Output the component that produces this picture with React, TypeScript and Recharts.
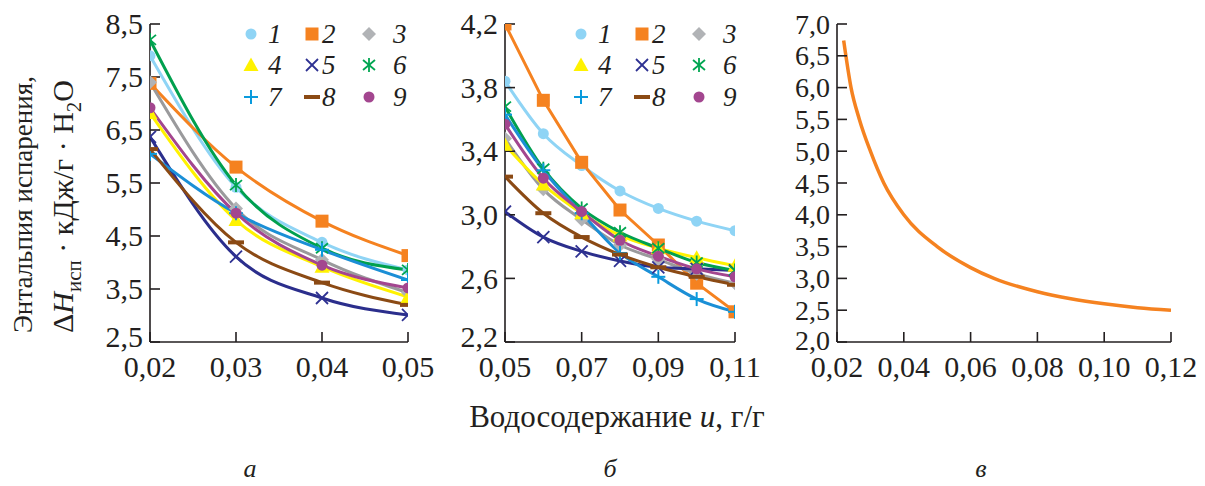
import React from 'react';
import { LineChart, Line, XAxis, YAxis } from 'recharts';

const FONT = "Liberation Serif, 'Liberation Serif', Tinos, 'DejaVu Serif', 'Noto Serif', serif";
const AXIS = '#231F20';

// ---------- data ----------
const seriesNames = ['1', '2', '3', '4', '5', '6', '7', '8', '9'];
const markerKinds = ['circle', 'square', 'diamond', 'triangle', 'x', 'star', 'plus', 'dash', 'circle'];
const markerColors = ['#8FD4F5', '#F58220', '#B1B3B6', '#FFF200', '#2E3192', '#00A651', '#0A9BDD', '#8B4A14', '#A3468F'];
const lineColors = ['#8FD4F5', '#F58220', '#9A9A9C', '#FFF200', '#2B2E8C', '#00A04E', '#1B8FD6', '#8B4A14', '#A3468F'];

// panel a
const uA = [0.02, 0.03, 0.04, 0.05];
const a1 = [7.9, 5.42, 4.38, 3.86];
const a2 = [7.38, 5.8, 4.78, 4.13];
const a3 = [7.4, 5.02, 4.05, 3.43];
const a4 = [6.82, 4.8, 3.92, 3.35];
const a5 = [6.37, 4.11, 3.33, 3.01];
const a6 = [8.2, 5.46, 4.27, 3.86];
const a7 = [6.05, 4.93, 4.24, 3.67];
const a8 = [6.14, 4.38, 3.62, 3.2];
const a9 = [6.92, 4.93, 3.95, 3.52];
const ticksAX = [0.02, 0.03, 0.04, 0.05];
const ticksAY = [2.5, 3.5, 4.5, 5.5, 6.5, 7.5, 8.5];

// panel b
const uB = [0.05, 0.06, 0.07, 0.08, 0.09, 0.1, 0.11];
const b1 = [3.84, 3.51, 3.31, 3.15, 3.04, 2.96, 2.9];
const b2 = [4.2, 3.72, 3.33, 3.03, 2.81, 2.57, 2.39];
const b3 = [3.48, 3.16, 2.97, 2.81, 2.72, 2.63, 2.57];
const b4 = [3.44, 3.19, 3.01, 2.87, 2.79, 2.73, 2.68];
const b5 = [3.02, 2.86, 2.77, 2.71, 2.67, 2.66, 2.65];
const b6 = [3.68, 3.29, 3.04, 2.89, 2.79, 2.7, 2.65];
const b7 = [3.63, 3.28, 3.01, 2.76, 2.61, 2.47, 2.39];
const b8 = [3.24, 3.01, 2.86, 2.75, 2.67, 2.61, 2.56];
const b9 = [3.57, 3.23, 3.02, 2.84, 2.74, 2.66, 2.61];
const ticksBX = [0.05, 0.07, 0.09, 0.11];
const ticksBY = [2.2, 2.6, 3.0, 3.4, 3.8, 4.2];

// panel c
const uC = [0.022, 0.0242, 0.0267, 0.03, 0.034, 0.04, 0.05, 0.06, 0.067, 0.08, 0.09, 0.1, 0.11, 0.12];
const cH = [6.74, 6.0, 5.5, 5.0, 4.5, 4.0, 3.5, 3.17, 3.0, 2.79, 2.68, 2.6, 2.54, 2.5];
const ticksCX = [0.02, 0.04, 0.06, 0.08, 0.1, 0.12];
const ticksCY = [2.0, 2.5, 3.0, 3.5, 4.0, 4.5, 5.0, 5.5, 6.0, 6.5, 7.0];

const panelA = [a1, a2, a3, a4, a5, a6, a7, a8, a9];
const panelB = [b1, b2, b3, b4, b5, b6, b7, b8, b9];

const rowsA = uA.map((u, i) => {
  const r: any = { u };
  panelA.forEach((s, k) => (r['s' + k] = s[i]));
  return r;
});
const rowsB = uB.map((u, i) => {
  const r: any = { u };
  panelB.forEach((s, k) => (r['s' + k] = s[i]));
  return r;
});
const rowsC = uC.map((u, i) => ({ u, h: cH[i] }));

// ---------- markers ----------
function Mark({ kind, x, y, c }: { kind: string; x: number; y: number; c: string }) {
  switch (kind) {
    case 'circle':
      return <circle cx={x} cy={y} r={5.5} fill={c} />;
    case 'square':
      return <rect x={x - 6.5} y={y - 6.5} width={13} height={13} fill={c} />;
    case 'diamond':
      return <path d={`M${x},${y - 7}L${x + 7},${y}L${x},${y + 7}L${x - 7},${y}Z`} fill={c} />;
    case 'triangle':
      return <path d={`M${x},${y - 7.5}L${x + 7.5},${y + 6}L${x - 7.5},${y + 6}Z`} fill={c} />;
    case 'x':
      return (
        <g stroke={c} strokeWidth={1.8}>
          <line x1={x - 6} y1={y - 6} x2={x + 6} y2={y + 6} />
          <line x1={x - 6} y1={y + 6} x2={x + 6} y2={y - 6} />
        </g>
      );
    case 'star':
      return (
        <g stroke={c} strokeWidth={1.8}>
          <line x1={x} y1={y - 7} x2={x} y2={y + 7} />
          <line x1={x - 6} y1={y - 5} x2={x + 6} y2={y + 5} />
          <line x1={x - 6} y1={y + 5} x2={x + 6} y2={y - 5} />
        </g>
      );
    case 'plus':
      return (
        <g stroke={c} strokeWidth={2}>
          <line x1={x} y1={y - 7} x2={x} y2={y + 7} />
          <line x1={x - 7} y1={y} x2={x + 7} y2={y} />
        </g>
      );
    case 'dash':
      return <rect x={x - 8} y={y - 2} width={16} height={4} fill={c} />;
    default:
      return null;
  }
}

const fmt1 = (v: number) => v.toFixed(1).replace('.', ',');
const fmt2 = (v: number) => v.toFixed(2).replace('.', ',');

const XTick = (p: any) => (
  <text
    x={p.x}
    y={p.y + 2}
    dy="0.71em"
    textAnchor="middle"
    fill={AXIS}
    style={{ fontFamily: FONT, fontSize: 30 }}
  >
    {fmt2(p.payload.value)}
  </text>
);
const YTick = (p: any) => (
  <text
    x={p.x}
    y={p.index === 0 ? p.y - (p.lift || 0) : p.y}
    dy="0.34em"
    textAnchor="end"
    fill={AXIS}
    style={{ fontFamily: FONT, fontSize: p.fs || 30 }}
  >
    {fmt1(p.payload.value)}
  </text>
);

function Legend9({ left, top }: { left: number; top: number }) {
  const colX = [0, 61, 118];
  const labX = [17, 71, 142];
  const rowY = [0, 31, 63];
  return (
    <svg style={{ position: 'absolute', left, top, overflow: 'visible' }} width={180} height={90}>
      {seriesNames.map((n, i) => {
        const r = Math.floor(i / 3);
        const c = i % 3;
        return (
          <g key={n}>
            <Mark kind={markerKinds[i]} x={colX[c]} y={rowY[r]} c={markerColors[i]} />
            <text
              x={labX[c]}
              y={rowY[r] + 9}
              style={{ fontFamily: FONT, fontStyle: 'italic', fontSize: 27 }}
              fill={AXIS}
            >
              {n}
            </text>
          </g>
        );
      })}
    </svg>
  );
}

function MultiPanel({
  rows,
  left,
  width,
  yW,
  right,
  xDomain,
  yDomain,
  xTicks,
  yTicks,
  linearIdx,
}: any) {
  return (
    <div style={{ position: 'absolute', left, top: 0 }}>
      <LineChart width={width} height={400} data={rows} margin={{ top: 24, right, left: 0, bottom: 0 }}>
        <XAxis
          dataKey="u"
          type="number"
          domain={xDomain}
          ticks={xTicks}
          height={58}
          tickSize={-10}
          tickMargin={22}
          tick={<XTick />}
          axisLine={{ stroke: AXIS, strokeWidth: 1.6 }}
          tickLine={{ stroke: AXIS, strokeWidth: 1.6 }}
          interval={0}
          allowDataOverflow
        />
        <YAxis
          type="number"
          domain={yDomain}
          ticks={yTicks}
          width={yW}
          tickSize={-10}
          tickMargin={17}
          tick={<YTick lift={5} />}
          axisLine={{ stroke: AXIS, strokeWidth: 1.6 }}
          tickLine={{ stroke: AXIS, strokeWidth: 1.6 }}
          interval={0}
          allowDataOverflow
        />
        {seriesNames.map((n, k) => (
          <Line
            key={n}
            dataKey={'s' + k}
            type={linearIdx === k ? 'linear' : 'monotone'}
            stroke={lineColors[k]}
            strokeWidth={3}
            isAnimationActive={false}
            activeDot={false}
            dot={(p: any) => (
              <Mark key={`${n}-${p.index}`} kind={markerKinds[k]} x={p.cx} y={p.cy} c={markerColors[k]} />
            )}
          />
        ))}
      </LineChart>
    </div>
  );
}

const T = (props: any) => <text {...props} style={{ fontFamily: FONT, ...(props.style || {}) }} />;

export default function App() {
  return (
    <div style={{ position: 'absolute', left: 0, top: 0, width: 1205, height: 486, background: '#fff', fontFamily: FONT }}>
      {/* y title */}
      <svg style={{ position: 'absolute', left: 0, top: 0 }} width={100} height={400}>
        <T transform="translate(32,333) rotate(-90)" fontSize={27} fill={AXIS}>
          Энтальпия испарения,
        </T>
        <T transform="translate(73,333) rotate(-90)" fontSize={30} fill={AXIS}>
          <tspan>Δ</tspan>
          <tspan fontStyle="italic">H</tspan>
          <tspan fontSize={21} dy={8}>исп</tspan>
          <tspan dy={-8}> · кДж/г · H</tspan>
          <tspan fontSize={21} dy={8}>2</tspan>
          <tspan dy={-8}>O</tspan>
        </T>
      </svg>

      <MultiPanel
        rows={rowsA}
        left={0}
        width={440}
        yW={150}
        right={32}
        xDomain={[0.02, 0.05]}
        yDomain={[2.5, 8.5]}
        xTicks={ticksAX}
        yTicks={ticksAY}
        linearIdx={-1}
      />
      <MultiPanel
        rows={rowsB}
        left={440}
        width={330}
        yW={65}
        right={35}
        xDomain={[0.05, 0.11]}
        yDomain={[2.2, 4.2]}
        xTicks={ticksBX}
        yTicks={ticksBY}
        linearIdx={1}
      />

      <div style={{ position: 'absolute', left: 770, top: 0 }}>
        <LineChart width={435} height={400} data={rowsC} margin={{ top: 24, right: 34, left: 0, bottom: 0 }}>
          <XAxis
            dataKey="u"
            type="number"
            domain={[0.02, 0.12]}
            ticks={ticksCX}
            height={58}
            tickSize={-10}
            tickMargin={22}
            tick={<XTick />}
            axisLine={{ stroke: AXIS, strokeWidth: 1.6 }}
            tickLine={{ stroke: AXIS, strokeWidth: 1.6 }}
            interval={0}
            allowDataOverflow
          />
          <YAxis
            type="number"
            domain={[2, 7]}
            ticks={ticksCY}
            width={67}
            tickSize={-10}
            tickMargin={17}
            tick={<YTick lift={2} fs={28} />}
            axisLine={{ stroke: AXIS, strokeWidth: 1.6 }}
            tickLine={{ stroke: AXIS, strokeWidth: 1.6 }}
            interval={0}
            allowDataOverflow
          />
          <Line
            dataKey="h"
            type="monotone"
            stroke="#F58220"
            strokeWidth={3.5}
            dot={false}
            activeDot={false}
            isAnimationActive={false}
          />
        </LineChart>
      </div>

      <Legend9 left={251} top={34} />
      <Legend9 left={581} top={34} />

      <svg style={{ position: 'absolute', left: 0, top: 380 }} width={1205} height={106}>
        <T x={617} y={47} textAnchor="middle" fontSize={31} fill={AXIS}>
          Водосодержание <tspan fontStyle="italic">u</tspan>, г/г
        </T>
        <T x={250} y={97} textAnchor="middle" fontStyle="italic" fontSize={26} fill={AXIS}>
          а
        </T>
        <T x={610} y={97} textAnchor="middle" fontStyle="italic" fontSize={26} fill={AXIS}>
          б
        </T>
        <T x={981} y={97} textAnchor="middle" fontStyle="italic" fontSize={26} fill={AXIS}>
          в
        </T>
      </svg>
    </div>
  );
}
